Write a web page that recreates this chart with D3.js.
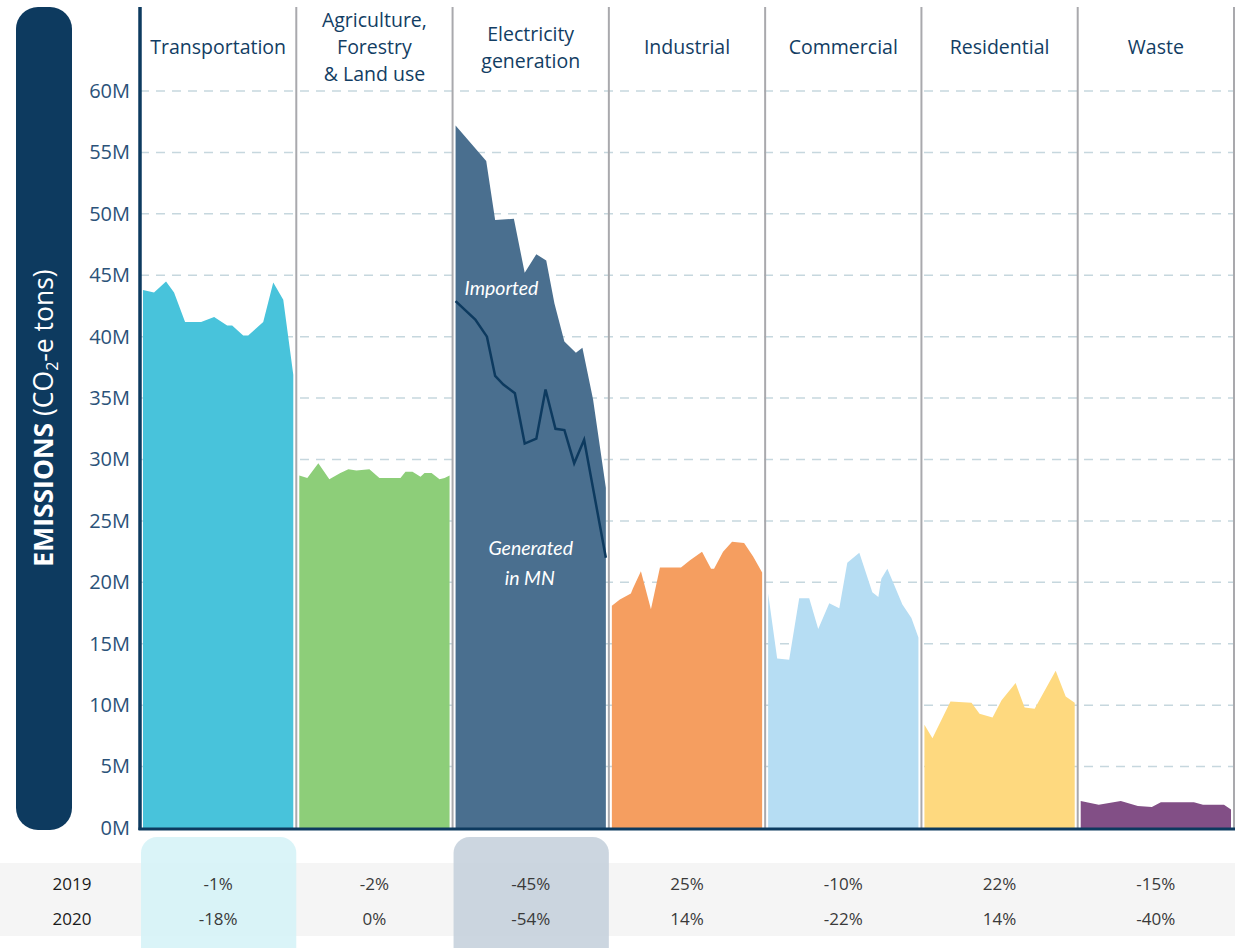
<!DOCTYPE html>
<html>
<head>
<meta charset="utf-8">
<script src="https://cdn.jsdelivr.net/npm/d3@7"></script>
<style>
  html, body { margin: 0; padding: 0; background: #ffffff; }
  svg { display: block; font-family: "Open Sans", "Noto Sans", sans-serif; }
</style>
</head>
<body>
<svg id="chart" width="1250" height="948"></svg>
<script>
// ---- Data: Minnesota greenhouse gas emissions by sector (million tons CO2-e) ----
const sectors = ["Transportation", "Agriculture", "Electricity", "Industrial", "Commercial", "Residential", "Waste"];
const headerLines = [
  ["Transportation"],
  ["Agriculture,", "Forestry", "& Land use"],
  ["Electricity", "generation"],
  ["Industrial"],
  ["Commercial"],
  ["Residential"],
  ["Waste"]
];
const sectorColors = ["#48c3db", "#8dce79", "#4a6f8f", "#f59e60", "#b6ddf3", "#fed97f", "#824f86"];

// [year, emissions in millions]
const transportation = [[2005, 43.8], [2006.1, 43.6], [2007.3, 44.5], [2008.1, 43.6], [2009.2, 41.2], [2010.8, 41.2], [2012.1, 41.6], [2013.4, 40.9], [2013.9, 40.9], [2015.0, 40.1], [2015.5, 40.1], [2017.0, 41.2], [2018.0, 44.4], [2019.0, 43.0], [2020, 36.9]];
const agriculture = [[2005, 28.7], [2005.8, 28.5], [2006.9, 29.7], [2008.0, 28.4], [2009.1, 28.9], [2009.9, 29.2], [2010.7, 29.1], [2012.0, 29.2], [2013.0, 28.5], [2015.1, 28.5], [2015.6, 29.0], [2016.3, 29.0], [2017.1, 28.6], [2017.5, 28.9], [2018.2, 28.9], [2019.0, 28.4], [2019.5, 28.5], [2020, 28.7]];
const electricity = [[2005, 57.2], [2008.06, 54.3], [2008.95, 49.5], [2010.82, 49.6], [2011.9, 45.2], [2013.06, 46.7], [2014.05, 46.2], [2014.87, 42.7], [2015.86, 39.6], [2017.01, 38.7], [2017.66, 39.1], [2018.72, 34.9], [2020, 27.7]];
const generatedInMN = [[2005, 42.9], [2006.97, 41.4], [2008.13, 40.0], [2008.95, 36.8], [2009.77, 36.1], [2010.92, 35.4], [2011.9, 31.3], [2013.06, 31.7], [2013.98, 35.7], [2014.97, 32.5], [2015.86, 32.4], [2016.84, 29.7], [2017.83, 31.6], [2020, 22.0]];
const industrial = [[2005, 18.1], [2005.8, 18.6], [2006.9, 19.1], [2007.1, 19.5], [2007.9, 20.9], [2008.9, 17.8], [2009.8, 21.2], [2011.9, 21.2], [2012.8, 21.8], [2014.0, 22.5], [2014.9, 21.1], [2015.2, 21.1], [2016.1, 22.5], [2017.0, 23.3], [2018.2, 23.2], [2019.1, 22.1], [2020, 20.8]];
const commercial = [[2005, 19.1], [2005.9, 13.8], [2007.1, 13.7], [2008.1, 18.7], [2009.1, 18.7], [2010.0, 16.2], [2011.1, 18.3], [2012.1, 17.9], [2012.9, 21.6], [2014.1, 22.4], [2015.4, 19.2], [2016.0, 18.8], [2016.3, 20.3], [2016.9, 21.1], [2018.4, 18.2], [2019.3, 17.1], [2020, 15.5]];
const residential = [[2005, 8.4], [2005.8, 7.3], [2007.6, 10.3], [2009.7, 10.2], [2010.5, 9.3], [2011.8, 9.0], [2012.7, 10.4], [2014.1, 11.8], [2015.0, 9.8], [2016.0, 9.7], [2018.1, 12.8], [2019.1, 10.7], [2020, 10.2]];
const waste = [[2005, 2.2], [2006.8, 1.9], [2009.0, 2.2], [2010.7, 1.8], [2012.1, 1.7], [2013.0, 2.1], [2016.3, 2.1], [2017.2, 1.9], [2019.3, 1.9], [2020, 1.5]];

const sectorSeries = [transportation, agriculture, electricity, industrial, commercial, residential, waste];

const yTicks = [0, 5, 10, 15, 20, 25, 30, 35, 40, 45, 50, 55, 60];
const rowYears = ["2019", "2020"];
const change2019 = ["-1%", "-2%", "-45%", "25%", "-10%", "22%", "-15%"];
const change2020 = ["-18%", "0%", "-54%", "14%", "-22%", "14%", "-40%"];
const highlighted = ["Transportation", "Electricity"];
const highlightColors = { Transportation: "#d3f2f7", Electricity: "#c3cfda" };

// ---- Layout ----
const svg = d3.select("#chart");
const navy = "#0d3a5f";
const plotLeft = 140, plotRight = 1234, plotTop = 7, plotBottom = 828;

const y = d3.scaleLinear().domain([0, 60]).range([plotBottom, 91]);
const xBand = d3.scaleBand().domain(sectors).range([plotLeft, plotRight]).paddingInner(0).paddingOuter(0);
const bw = xBand.bandwidth();
const xYear = s => d3.scaleLinear().domain([2005, 2020]).range([xBand(s) + 3, xBand(s) + bw - 3]);

// Y axis title panel
svg.append("rect")
  .attr("x", 16).attr("y", 7).attr("width", 56).attr("height", 823)
  .attr("rx", 22).attr("ry", 22)
  .attr("fill", navy);

const title = svg.append("text")
  .attr("transform", `translate(53, 418) rotate(-90)`)
  .attr("text-anchor", "middle")
  .attr("fill", "#ffffff")
  .attr("font-size", 26.5);
title.append("tspan").attr("font-weight", "bold").text("EMISSIONS");
title.append("tspan").text(" (CO");
title.append("tspan").attr("font-size", 16).attr("dy", 5).text("2");
title.append("tspan").attr("dy", -5).text("-e tons)");

// Gridlines
svg.append("g")
  .selectAll("line")
  .data(yTicks.filter(d => d > 0))
  .join("line")
  .attr("x1", plotLeft).attr("x2", plotRight)
  .attr("y1", d => y(d)).attr("y2", d => y(d))
  .attr("stroke", "#c6d7de")
  .attr("stroke-width", 1.5)
  .attr("stroke-dasharray", "9,7");

// Y axis tick labels
const yAxis = d3.axisLeft(y).tickValues(yTicks).tickFormat(d => d + "M").tickSize(0).tickPadding(9);
const yAxisG = svg.append("g").attr("transform", `translate(${plotLeft - 1},0)`).call(yAxis);
yAxisG.select(".domain").remove();
yAxisG.selectAll("text")
  .attr("font-family", "'Open Sans', sans-serif")
  .attr("font-size", 20)
  .attr("fill", "#2b5279");

// Sector areas
const areaGen = xs => d3.area()
  .x(d => xs(d[0]))
  .y0(y(0))
  .y1(d => y(d[1]));

sectors.forEach((s, i) => {
  const xs = xYear(s);
  svg.append("path")
    .datum(sectorSeries[i])
    .attr("d", areaGen(xs))
    .attr("fill", sectorColors[i]);
});

// Electricity generated in-state line
const xe = xYear("Electricity");
svg.append("path")
  .datum(generatedInMN)
  .attr("d", d3.line().x(d => xe(d[0])).y(d => y(d[1])))
  .attr("fill", "none")
  .attr("stroke", navy)
  .attr("stroke-width", 2.5)
  .attr("stroke-linejoin", "miter");

// Electricity labels
const labelFont = "'Lato', 'Open Sans', sans-serif";
svg.append("text")
  .attr("x", xe(2006)).attr("y", y(43.4))
  .attr("font-family", labelFont).attr("font-style", "italic")
  .attr("font-size", 19.5).attr("fill", "#ffffff")
  .attr("dx", -1)
  .text("Imported");
const gen = svg.append("text")
  .attr("text-anchor", "middle")
  .attr("font-family", labelFont).attr("font-style", "italic")
  .attr("font-size", 19.5).attr("fill", "#ffffff");
gen.append("tspan").attr("x", xe(2012.5)).attr("y", y(22.25)).text("Generated");
gen.append("tspan").attr("x", xe(2012.4)).attr("y", y(19.75)).text("in MN");

// Panel dividers
svg.append("g")
  .selectAll("line")
  .data(sectors.slice(1).map(s => xBand(s)).concat([plotRight]))
  .join("line")
  .attr("x1", d => d).attr("x2", d => d)
  .attr("y1", plotTop).attr("y2", plotBottom)
  .attr("stroke", "#a9a9ad")
  .attr("stroke-width", 2);

// Axis lines
svg.append("line")
  .attr("x1", plotLeft).attr("x2", plotLeft)
  .attr("y1", plotTop).attr("y2", plotBottom + 2)
  .attr("stroke", navy).attr("stroke-width", 3.5);
svg.append("line")
  .attr("x1", plotLeft - 1.5).attr("x2", plotRight + 1)
  .attr("y1", plotBottom + 1).attr("y2", plotBottom + 1)
  .attr("stroke", navy).attr("stroke-width", 3);

// Sector headers
sectors.forEach((s, i) => {
  const lines = headerLines[i];
  const cx = xBand(s) + bw / 2;
  const lh = 27;
  const startY = 54 - (lines.length - 1) * lh / 2;
  const t = svg.append("text")
    .attr("text-anchor", "middle")
    .attr("font-size", 19.5)
    .attr("fill", "#123d63");
  lines.forEach((ln, j) => {
    t.append("tspan").attr("x", cx).attr("y", startY + j * lh).text(ln);
  });
});

// Change table
svg.append("rect")
  .attr("x", 0).attr("y", 863).attr("width", plotRight + 1).attr("height", 73)
  .attr("fill", "#f5f5f5");

highlighted.forEach(s => {
  svg.append("rect")
    .attr("x", xBand(s) + 1).attr("y", 837)
    .attr("width", bw - 1).attr("height", 140)
    .attr("rx", 16).attr("ry", 16)
    .attr("fill", highlightColors[s])
    .attr("opacity", 0.85);
});

const rowY = [883, 918];
rowYears.forEach((yr, r) => {
  svg.append("text")
    .attr("x", 72).attr("y", rowY[r])
    .attr("text-anchor", "middle").attr("dominant-baseline", "central")
    .attr("font-size", 17).attr("fill", "#1a1a1a")
    .text(yr);
});
[change2019, change2020].forEach((row, r) => {
  svg.append("g")
    .selectAll("text")
    .data(sectors)
    .join("text")
    .attr("x", s => xBand(s) + bw / 2)
    .attr("y", rowY[r])
    .attr("text-anchor", "middle").attr("dominant-baseline", "central")
    .attr("font-size", 17).attr("fill", "#3a3a3a")
    .text((s, i) => row[i]);
});
</script>
</body>
</html>
